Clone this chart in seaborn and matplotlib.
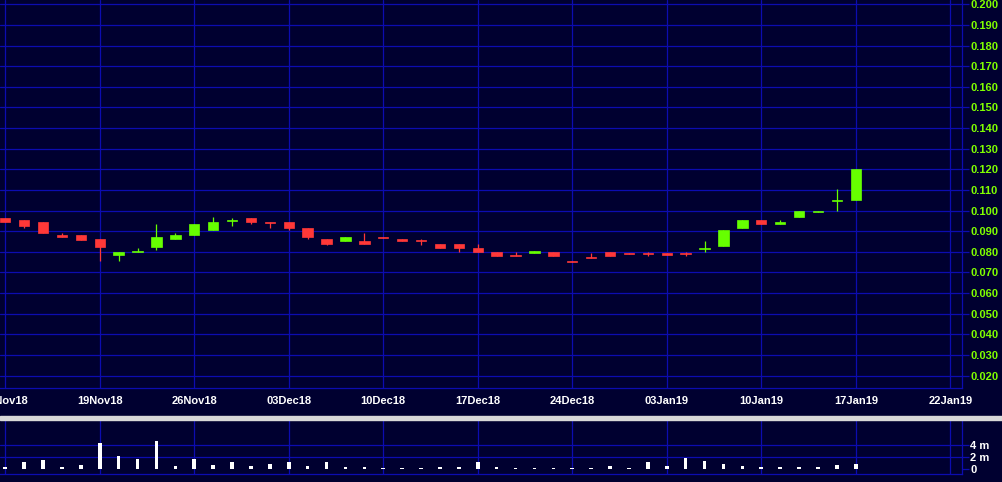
import numpy as np
import pandas as pd
import matplotlib
matplotlib.use("Agg")
import matplotlib.pyplot as plt
from matplotlib.patches import Rectangle
import seaborn as sns

# trading days shown on the chart
dates = ['12Nov18', '13Nov18', '14Nov18', '15Nov18', '16Nov18',
         '19Nov18', '20Nov18', '21Nov18', '22Nov18', '23Nov18',
         '26Nov18', '27Nov18', '28Nov18', '29Nov18', '30Nov18',
         '03Dec18', '04Dec18', '05Dec18', '06Dec18', '07Dec18',
         '10Dec18', '11Dec18', '12Dec18', '13Dec18', '14Dec18',
         '17Dec18', '18Dec18', '19Dec18', '20Dec18', '21Dec18',
         '24Dec18', '27Dec18', '28Dec18', '31Dec18', '02Jan19',
         '03Jan19', '04Jan19', '07Jan19', '08Jan19', '09Jan19',
         '10Jan19', '11Jan19', '14Jan19', '15Jan19', '16Jan19', '17Jan19']

open_ = [0.0965, 0.0955, 0.0945, 0.0880, 0.0880, 0.0860, 0.0785, 0.0800, 0.0825, 0.0860,
         0.0880, 0.0905, 0.0950, 0.0965, 0.0945, 0.0945, 0.0915, 0.0860, 0.0850, 0.0850,
         0.0870, 0.0860, 0.0855, 0.0840, 0.0840, 0.0820, 0.0800, 0.0785, 0.0795, 0.0800,
         0.0755, 0.0775, 0.0800, 0.0795, 0.0795, 0.0795, 0.0795, 0.0815, 0.0830, 0.0915,
         0.0955, 0.0935, 0.0970, 0.0995, 0.1045, 0.1050]
high = [0.0965, 0.0955, 0.0945, 0.0890, 0.0880, 0.0860, 0.0800, 0.0820, 0.0935, 0.0890,
        0.0935, 0.0970, 0.0965, 0.0965, 0.0945, 0.0945, 0.0915, 0.0860, 0.0870, 0.0890,
        0.0870, 0.0860, 0.0860, 0.0840, 0.0840, 0.0840, 0.0800, 0.0800, 0.0805, 0.0800,
        0.0755, 0.0795, 0.0800, 0.0795, 0.0800, 0.0795, 0.0800, 0.0850, 0.0905, 0.0955,
        0.0955, 0.0955, 0.1000, 0.1000, 0.1105, 0.1200]
low = [0.0945, 0.0915, 0.0890, 0.0870, 0.0855, 0.0755, 0.0755, 0.0800, 0.0810, 0.0860,
       0.0880, 0.0905, 0.0925, 0.0935, 0.0915, 0.0905, 0.0860, 0.0835, 0.0850, 0.0840,
       0.0865, 0.0850, 0.0835, 0.0820, 0.0800, 0.0800, 0.0780, 0.0780, 0.0795, 0.0780,
       0.0750, 0.0770, 0.0780, 0.0790, 0.0780, 0.0785, 0.0780, 0.0800, 0.0830, 0.0915,
       0.0935, 0.0935, 0.0970, 0.0995, 0.1000, 0.1050]
close = [0.0945, 0.0925, 0.0890, 0.0870, 0.0855, 0.0825, 0.0800, 0.0805, 0.0870, 0.0880,
         0.0935, 0.0945, 0.0955, 0.0945, 0.0940, 0.0915, 0.0870, 0.0840, 0.0870, 0.0840,
         0.0865, 0.0850, 0.0850, 0.0820, 0.0820, 0.0800, 0.0780, 0.0780, 0.0805, 0.0780,
         0.0750, 0.0770, 0.0780, 0.0790, 0.0790, 0.0785, 0.0790, 0.0820, 0.0905, 0.0955,
         0.0935, 0.0945, 0.1000, 0.1000, 0.1050, 0.1200]
# volume in millions of shares
volume = [0.33, 1.1, 1.45, 0.3, 0.6, 4.3, 2.1, 1.6, 4.6, 0.45,
          1.6, 0.6, 1.1, 0.45, 0.8, 1.1, 0.45, 1.1, 0.3, 0.3,
          0.15, 0.15, 0.15, 0.3, 0.3, 1.1, 0.3, 0.1, 0.1, 0.1,
          0.1, 0.1, 0.45, 0.1, 1.1, 0.45, 1.8, 1.3, 0.8, 0.45,
          0.33, 0.3, 0.3, 0.3, 0.6, 0.8]

tick_labels = ['12Nov18', '19Nov18', '26Nov18', '03Dec18', '10Dec18', '17Dec18',
               '24Dec18', '03Jan19', '10Jan19', '17Jan19', '22Jan19']
tick_pos = [0, 5, 10, 15, 20, 25, 30, 35, 40, 45, 50]
price_ticks = [0.02, 0.03, 0.04, 0.05, 0.06, 0.07, 0.08, 0.09, 0.10,
               0.11, 0.12, 0.13, 0.14, 0.15, 0.16, 0.17, 0.18, 0.19, 0.20]
vol_ticks = [0, 2, 4]
vol_labels = ['0', '2 m', '4 m']

bg = '#000030'
gridc = '#0c0cb0'
up_col = '#66ff00'
down_col = '#ff3838'

df = pd.DataFrame({'date': dates, 'open': open_, 'high': high, 'low': low,
                   'close': close, 'volume': volume})
df['x'] = np.arange(len(df))
df['col'] = np.where(df['close'] >= df['open'], up_col, down_col)

sns.set_theme(style="dark", rc={
    'axes.facecolor': bg, 'figure.facecolor': bg, 'savefig.facecolor': bg,
    'grid.color': gridc, 'grid.linewidth': 0.9, 'axes.edgecolor': gridc,
})
plt.rcParams['font.family'] = ['Liberation Sans', 'DejaVu Sans']
plt.rcParams['font.weight'] = 'bold'

fig = plt.figure(figsize=(10.02, 4.82), dpi=100)
ax = fig.add_axes([0, 1 - 388.3 / 482, 962 / 1002, 388.3 / 482])
axv = fig.add_axes([0, 1 - 474 / 482, 962 / 1002, 54 / 482])

# candles: wicks then bodies
ax.vlines(df['x'], df['low'], df['high'], colors=df['col'], lw=0.9, zorder=3)
body_bottom = np.minimum(df['open'], df['close'])
body_h = (df['close'] - df['open']).abs()
ax.bar(df['x'], body_h, bottom=body_bottom, width=0.55, color=df['col'],
       edgecolor=df['col'], linewidth=0.5, zorder=4)

ax.set_xlim(-0.28, 50.62)
ax.set_ylim(0.0138, 0.2021)
ax.set_xticks(tick_pos, tick_labels)
ax.set_yticks(price_ticks, [f'{v:.3f}' for v in price_ticks])
ax.yaxis.tick_right()
ax.tick_params(axis='x', length=0, pad=5.5, labelcolor='white', labelsize=8)
ax.tick_params(axis='y', length=5, width=0.9, color=gridc, pad=1,
               labelcolor='#80ff00', labelsize=8)
ax.grid(True, axis='both', color=gridc, lw=0.9)
for s in ['left', 'top']:
    ax.spines[s].set_visible(False)
for s in ['right', 'bottom']:
    ax.spines[s].set_color(gridc)
    ax.spines[s].set_linewidth(0.9)

# volume panel
sns.barplot(data=df, x='x', y='volume', native_scale=True, width=0.19,
            color='white', saturation=1, linewidth=0, errorbar=None,
            ax=axv, zorder=3)
axv.set_xlim(-0.28, 50.62)
axv.set_ylim(-0.83, 8.17)
axv.set_xticks(tick_pos)
axv.set_xticklabels([])
axv.set_xlabel('')
axv.set_ylabel('')
axv.set_yticks(vol_ticks, vol_labels)
axv.yaxis.tick_right()
axv.tick_params(axis='x', length=0)
axv.tick_params(axis='y', length=5, width=0.9, color=gridc, pad=1,
                labelcolor='white', labelsize=8)
axv.grid(True, axis='both', color=gridc, lw=0.9)
axv.yaxis.get_major_ticks()[0].gridline.set_visible(False)
for s in ['left', 'top']:
    axv.spines[s].set_visible(False)
for s in ['right', 'bottom']:
    axv.spines[s].set_color(gridc)
    axv.spines[s].set_linewidth(0.9)

# separator bar between panels
fig.patches.append(Rectangle((0, 1 - 419.5 / 482), 1, 3.5 / 482,
                             transform=fig.transFigure, color='#d8d8d8'))

fig.savefig('out.png', dpi=100, facecolor=bg)
